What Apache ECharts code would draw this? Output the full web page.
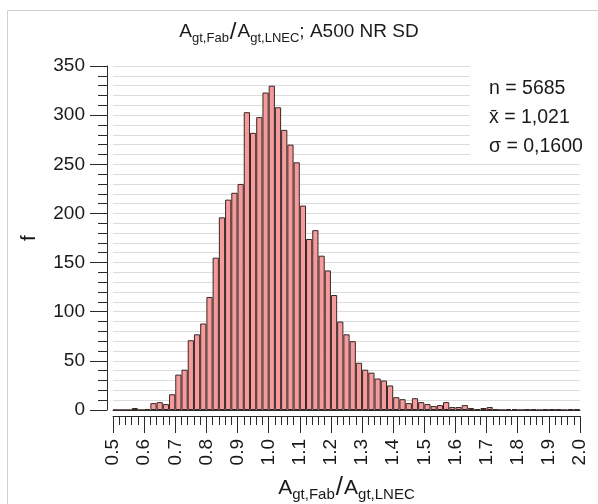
<!DOCTYPE html>
<html><head><meta charset="utf-8">
<script src="https://cdn.jsdelivr.net/npm/echarts@6/dist/echarts.min.js"></script>
<style>html,body{margin:0;padding:0;background:#fff}#c{width:598px;height:504px}</style>
</head><body><div id="c"></div>
<script>
// Histogram bins (bin start values, width 0.02)
const binStarts = ["0.50","0.52","0.54","0.56","0.58","0.60","0.62","0.64","0.66","0.68",
  "0.70","0.72","0.74","0.76","0.78","0.80","0.82","0.84","0.86","0.88",
  "0.90","0.92","0.94","0.96","0.98","1.00","1.02","1.04","1.06","1.08",
  "1.10","1.12","1.14","1.16","1.18","1.20","1.22","1.24","1.26","1.28",
  "1.30","1.32","1.34","1.36","1.38","1.40","1.42","1.44","1.46","1.48",
  "1.50","1.52","1.54","1.56","1.58","1.60","1.62","1.64","1.66","1.68",
  "1.70","1.72","1.74","1.76","1.78","1.80","1.82","1.84","1.86","1.88",
  "1.90","1.92","1.94","1.96","1.98"];
// Frequencies
const counts = [0,0,0,2,0,1,7,8,6,16,
  36,41,71,77,88,115,155,196,214,221,
  230,303,282,298,323,330,308,285,270,252,
  208,174,183,157,142,117,90,77,70,48,
  41,38,32,30,25,13,11,7,12,8,
  6,4,5,8,3,3,5,2,1,2,
  3,1,0,1,1,0,1,1,0,1,
  1,1,0,1,1];
const xMin = 0.5, xMax = 2.0, xStep = 0.1;
const yMin = 0, yMax = 350, yStep = 50;
const statsLines = ["n = 5685", "x\u0304 = 1,021", "\u03c3 = 0,1600"];

const FONT = "'Liberation Sans', Arial, sans-serif";
const TXT = '#1a1a1a';
const AX = '#2a2a2a';
const GRID = '#dcdcdc';

const chart = echarts.init(document.getElementById('c'), null, {renderer: 'canvas'});
const richAgt = {
  a: {fontSize: 19, fontFamily: FONT, color: TXT, fontWeight: 'normal'},
  s: {fontSize: 13, fontFamily: FONT, color: TXT, fontWeight: 'normal', verticalAlign: 'bottom', lineHeight: 13},
  sl: {fontSize: 24, fontFamily: FONT, color: TXT, fontWeight: 'normal', padding: [0, 1, 0, 1]}
};
const richAxis = {
  a: {fontSize: 21, fontFamily: FONT, color: TXT, fontWeight: 'normal'},
  s: {fontSize: 15, fontFamily: FONT, color: TXT, fontWeight: 'normal', verticalAlign: 'bottom', lineHeight: 14},
  sl: {fontSize: 26, fontFamily: FONT, color: TXT, fontWeight: 'normal', padding: [0, 1, 0, 1]}
};
chart.setOption({
  animation: false,
  backgroundColor: '#fff',
  title: {
    text: '{a|A}{s|gt,Fab}{sl|/}{a|A}{s|gt,LNEC}{a|; A500 NR SD}',
    left: 'center', top: 14,
    textStyle: {rich: richAgt, lineHeight: 26, fontWeight: 'normal'}
  },
  grid: {left: 113, right: 18, top: 66, bottom: 94, outerBoundsMode: 'none', containLabel: false},
  xAxis: [
    {
      type: 'category', data: binStarts, boundaryGap: true, position: 'bottom',
      axisLine: {show: true, lineStyle: {color: AX, width: 1}},
      axisTick: {show: false}, axisLabel: {show: false}, splitLine: {show: false}
    },
    {
      type: 'value', min: xMin, max: xMax, interval: xStep, position: 'bottom', offset: 6,
      axisLine: {show: true, onZero: false, lineStyle: {color: AX, width: 1}},
      axisTick: {show: true, length: 17, lineStyle: {color: AX}},
      minorTick: {show: true, splitNumber: 5, length: 9, lineStyle: {color: AX}},
      splitLine: {show: false},
      axisLabel: {rotate: 90, margin: 23, fontSize: 19, fontFamily: FONT, color: TXT,
        formatter: v => v.toFixed(1)},
      name: '{a|A}{s|gt,Fab}{sl|/}{a|A}{s|gt,LNEC}',
      nameLocation: 'middle', nameGap: 58,
      nameTextStyle: {rich: richAxis, lineHeight: 28}
    }
  ],
  yAxis: {
    type: 'value', min: yMin, max: yMax, interval: yStep, offset: 6,
    axisLine: {show: true, lineStyle: {color: AX, width: 1}},
    axisTick: {show: true, length: 17, lineStyle: {color: AX}},
    minorTick: {show: true, splitNumber: 5, length: 9, lineStyle: {color: AX}},
    splitLine: {show: true, lineStyle: {color: GRID, width: 1}},
    minorSplitLine: {show: true, lineStyle: {color: GRID, width: 1}},
    axisLabel: {margin: 22, fontSize: 19, fontFamily: FONT, color: TXT},
    name: 'f', nameLocation: 'middle', nameGap: 67, nameRotate: 90,
    nameTextStyle: {fontSize: 21, fontFamily: FONT, color: TXT}
  },
  series: [{
    type: 'bar', xAxisIndex: 0, yAxisIndex: 0, data: counts,
    barWidth: '100%', barCategoryGap: '0%',
    itemStyle: {color: '#f69b9b', borderColor: '#3a2626', borderWidth: 1},
    emphasis: {disabled: true}
  }],
  graphic: [
    {type: 'polyline', shape: {points: [[7.5, 504], [7.5, 10.5], [598, 10.5]]},
      style: {stroke: '#cfcfcf', lineWidth: 1, fill: null}, silent: true},
    {type: 'rect', shape: {x: 470, y: 62, width: 112, height: 98},
      style: {fill: '#fff'}, silent: true, z: 10},
    {type: 'text', x: 489, y: 89, z: 11, style: {text: statsLines[0], font: '19.5px ' + FONT, fill: TXT, textVerticalAlign: 'middle'}},
    {type: 'text', x: 489, y: 118, z: 11, style: {text: statsLines[1], font: '19.5px ' + FONT, fill: TXT, textVerticalAlign: 'middle'}},
    {type: 'text', x: 489, y: 147, z: 11, style: {text: statsLines[2], font: '19.5px ' + FONT, fill: TXT, textVerticalAlign: 'middle'}}
  ]
});
</script>
</body></html>
